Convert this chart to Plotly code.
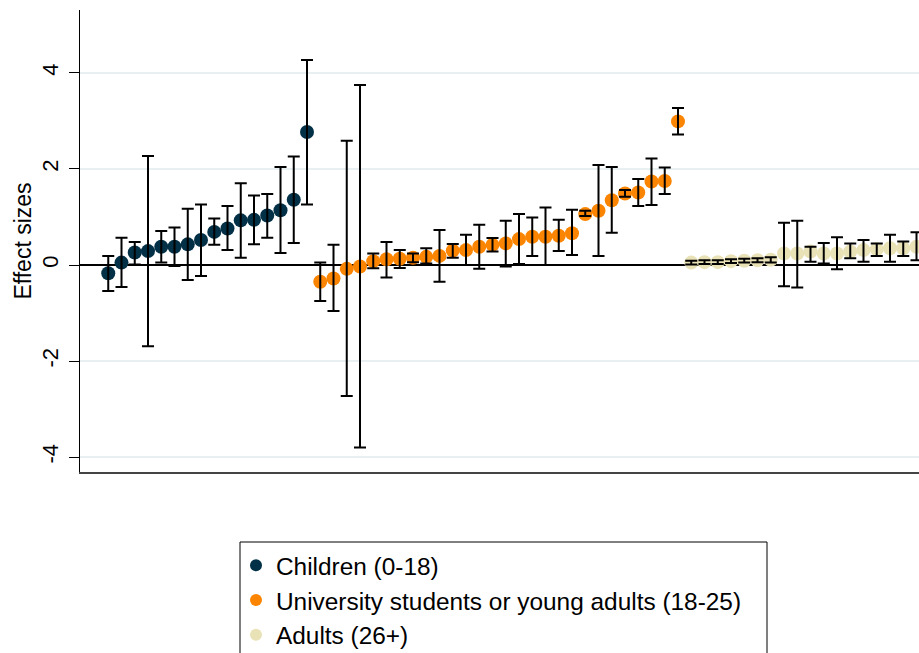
import plotly.graph_objects as go

# Point estimates and 95% CI (lower, upper), ordered within group
children_est = [-0.17, 0.05, 0.26, 0.29, 0.38, 0.38, 0.43, 0.52, 0.69, 0.76, 0.93, 0.94, 1.03, 1.14, 1.36, 2.77]
children_lo  = [-0.54, -0.46, 0.01, -1.69, 0.05, -0.02, -0.31, -0.23, 0.42, 0.31, 0.15, 0.43, 0.57, 0.25, 0.46, 1.26]
children_hi  = [0.19, 0.57, 0.48, 2.27, 0.71, 0.78, 1.17, 1.26, 0.97, 1.23, 1.70, 1.45, 1.48, 2.04, 2.26, 4.27]

students_est = [-0.35, -0.28, -0.08, -0.03, 0.08, 0.12, 0.13, 0.15, 0.17, 0.19, 0.30, 0.31, 0.38, 0.42,
                0.45, 0.54, 0.59, 0.59, 0.61, 0.66, 1.06, 1.13, 1.35, 1.49, 1.51, 1.74, 1.75, 2.99]
students_lo  = [-0.75, -0.96, -2.73, -3.80, -0.07, -0.26, -0.06, 0.06, 0.03, -0.35, 0.15, 0.00, -0.08, 0.28,
                -0.03, 0.02, 0.19, 0.00, 0.29, 0.21, 1.02, 0.19, 0.67, 1.42, 1.23, 1.25, 1.48, 2.72]
students_hi  = [0.05, 0.42, 2.59, 3.75, 0.24, 0.48, 0.31, 0.24, 0.35, 0.73, 0.44, 0.63, 0.84, 0.56,
                0.92, 1.06, 0.99, 1.20, 0.94, 1.15, 1.13, 2.08, 2.04, 1.56, 1.79, 2.22, 2.03, 3.27]

adults_est = [0.05, 0.06, 0.06, 0.08, 0.09, 0.10, 0.11, 0.24, 0.24, 0.28, 0.24, 0.24, 0.28, 0.31, 0.33, 0.35, 0.35, 0.38]
adults_lo  = [0.01, 0.02, 0.02, 0.04, 0.05, 0.06, 0.05, -0.44, -0.47, 0.07, 0.03, -0.09, 0.14, 0.07, 0.19, 0.07, 0.19, 0.10]
adults_hi  = [0.09, 0.10, 0.10, 0.12, 0.13, 0.14, 0.16, 0.88, 0.92, 0.38, 0.46, 0.58, 0.45, 0.52, 0.45, 0.63, 0.49, 0.68]

group_names = ["Children (0-18)", "University students or young adults (18-25)", "Adults (26+)"]
group_colors = ["#023047", "#fb8500", "#eae2b7"]
y_ticks = [-4, -2, 0, 2, 4]

groups = [(children_est, children_lo, children_hi),
          (students_est, students_lo, students_hi),
          (adults_est, adults_lo, adults_hi)]

FONT = "Liberation Sans, Arial, sans-serif"
W, H = 919, 653
ML, MR, MT, MB = 80, 0, 10, 181

fig = go.Figure()

start = 1
positions = []
for est, lo, hi in groups:
    xs = list(range(start, start + len(est)))
    positions.append(xs)
    start += len(est)

# markers
for (est, lo, hi), xs, name, col in zip(groups, positions, group_names, group_colors):
    fig.add_trace(go.Scatter(
        x=xs, y=est, mode="markers", name=name, legendgroup=name,
        marker=dict(color=col, size=14, line=dict(width=0)),
        cliponaxis=True,
    ))

# error bars drawn on top
for (est, lo, hi), xs, name in zip(groups, positions, group_names):
    fig.add_trace(go.Scatter(
        x=xs, y=est, mode="markers", showlegend=False, hoverinfo="skip",
        marker=dict(color="rgba(0,0,0,0)", size=1),
        error_y=dict(type="data", symmetric=False,
                     array=[h - e for h, e in zip(hi, est)],
                     arrayminus=[e - l for e, l in zip(est, lo)],
                     color="black", thickness=2, width=6),
    ))

plot_w = W - ML - MR
plot_h = H - MT - MB

def px_to_paper_x(px):
    return (px - ML) / plot_w

def px_to_paper_y(py):
    return (H - MB - py) / plot_h

# legend frame (extends beyond the bottom of the image)
fig.add_shape(type="rect", xref="paper", yref="paper",
              x0=px_to_paper_x(240), x1=px_to_paper_x(767),
              y0=px_to_paper_y(680), y1=px_to_paper_y(542),
              line=dict(color="black", width=1), fillcolor="rgba(0,0,0,0)", layer="above")

fig.update_layout(
    width=W, height=H,
    margin=dict(l=ML, r=MR, t=MT, b=MB, autoexpand=False),
    paper_bgcolor="white", plot_bgcolor="white",
    font=dict(family=FONT, size=22, color="black"),
    showlegend=True,
    legend=dict(x=px_to_paper_x(236), y=px_to_paper_y(543), xanchor="left", yanchor="top",
                bgcolor="rgba(0,0,0,0)", borderwidth=0, font=dict(size=24.4, family=FONT),
                tracegroupgap=0, itemsizing="constant"),
    xaxis=dict(range=[(ML - 95) / 13.25, (W - 95) / 13.25], showgrid=False, zeroline=False,
               showticklabels=False, ticks="", showline=True, linecolor="#444444", linewidth=2),
    yaxis=dict(range=[-4.31, 5.31], tickvals=y_ticks, ticktext=[str(v) for v in y_ticks],
               tickangle=-90, ticks="outside", ticklen=10, tickcolor="black", tickwidth=1,
               showline=True, linecolor="black", linewidth=1,
               showgrid=True, gridcolor="#e9f0f1", gridwidth=2,
               zeroline=True, zerolinecolor="black", zerolinewidth=1.5,
               title=dict(text="Effect sizes", font=dict(size=23, family=FONT), standoff=0),
               ticklabelstandoff=2, automargin=False),
)

fig.write_html("out.html", config={"displayModeBar": False},
               post_script="document.body.style.margin='0';document.body.style.overflow='hidden';")
